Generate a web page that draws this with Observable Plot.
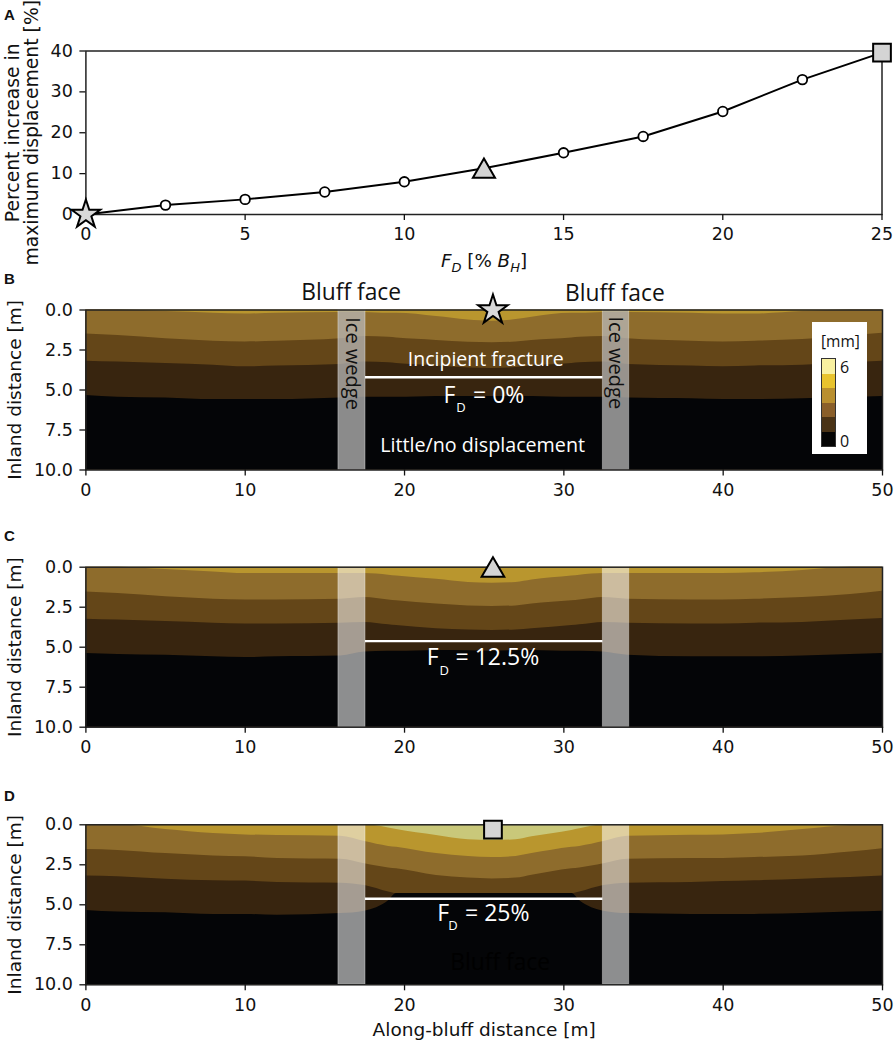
<!DOCTYPE html>
<html>
<head>
<meta charset="utf-8">
<script src="https://cdn.jsdelivr.net/npm/d3@7"></script>
<script src="https://cdn.jsdelivr.net/npm/@observablehq/plot@0.6"></script>
<style>
body { margin: 0; background: #fff; font-family: "DejaVu Sans", sans-serif; }
#page { position: relative; width: 896px; height: 1044px; overflow: hidden; }
.panel { position: absolute; left: 0; }
.letter { position: absolute; left: 4px; font: bold 15px "Liberation Sans", sans-serif; color: #111; }
#xlabelA { position: absolute; left: 284px; width: 400px; top: 250px; text-align: center; font-size: 18.3px; color: #111; }
#xlabelA sub { font-size: 13px; line-height: 0; }
#legend { position: absolute; left: 812px; top: 322px; width: 55px; height: 132px; background: #fff; font: 15.5px "Open Sans", sans-serif; color: #111; }
#legend .unit { position: absolute; left: 9px; top: 8px; }
#legend .bar { position: absolute; left: 9px; top: 36px; width: 13px; height: 87px; border: 1px solid #333; }
#legend .bar div { height: 14.5px; }
#legend .six { position: absolute; left: 28px; top: 34px; font-size: 16px; }
#legend .zero { position: absolute; left: 28px; top: 108px; font-size: 16px; }
</style>
</head>
<body>
<div id="page"></div>
<script>
// panel A
const fdValues = [0, 2.5, 5, 7.5, 10, 12.5, 15, 17.5, 20, 22.5, 25]
const increase = [0, 2.3, 3.7, 5.5, 8, 11.3, 15.1, 19.1, 25.2, 33, 39.6]
const fdCircles = [2.5, 5, 7.5, 10, 15, 17.5, 20, 22.5]
const increaseCircles = [2.3, 3.7, 5.5, 8, 15.1, 19.1, 25.2, 33]

// contour boundaries, depth in m at each along-bluff stop
const xStops = [0, 2, 5, 8, 10, 12, 16, 17.5, 19, 19.5, 22, 24, 25.5, 27, 28, 30.5, 31, 32.5, 34, 38, 40, 42, 45, 48, 50]

const bGold = [0, 0, 0.1, 0.2, 0.25, 0.2, 0.15, 0.15, 0.2, 0.2, 0.4, 0.62, 0.7, 0.6, 0.45, 0.2, 0.2, 0.15, 0.15, 0.2, 0.25, 0.25, 0.1, 0, 0]
const bTan = [1.5, 1.6, 1.8, 1.95, 2.0, 1.95, 1.8, 1.65, 1.7, 1.75, 1.9, 2.02, 2.05, 2.0, 1.9, 1.75, 1.7, 1.65, 1.8, 1.95, 2.0, 1.95, 1.85, 1.6, 1.45]
const bBrown = [3.2, 3.25, 3.35, 3.45, 3.55, 3.5, 3.4, 3.25, 3.3, 3.35, 3.5, 3.62, 3.65, 3.6, 3.5, 3.35, 3.3, 3.25, 3.4, 3.5, 3.55, 3.5, 3.45, 3.3, 3.2]
const bDark = [5.35, 5.45, 5.5, 5.6, 5.6, 5.6, 5.5, 5.45, 5.45, 5.45, 5.4, 5.4, 5.4, 5.4, 5.4, 5.45, 5.45, 5.45, 5.5, 5.55, 5.6, 5.6, 5.55, 5.45, 5.4]

const cGold = [0, 0, 0.15, 0.3, 0.4, 0.4, 0.4, 0.4, 0.5, 0.55, 0.75, 0.95, 1.0, 0.95, 0.8, 0.55, 0.5, 0.4, 0.4, 0.4, 0.4, 0.35, 0.2, 0, 0]
const cTan = [1.55, 1.65, 1.85, 2.0, 2.05, 2.05, 2.0, 1.9, 2.05, 2.1, 2.3, 2.42, 2.45, 2.42, 2.3, 2.1, 2.05, 1.9, 2.0, 2.05, 2.05, 2.0, 1.9, 1.7, 1.5]
const cBrown = [3.25, 3.3, 3.4, 3.5, 3.55, 3.55, 3.5, 3.45, 3.6, 3.65, 3.85, 3.92, 3.95, 3.92, 3.85, 3.65, 3.6, 3.45, 3.5, 3.55, 3.55, 3.5, 3.45, 3.3, 3.2]
const cDark = [5.4, 5.45, 5.5, 5.6, 5.65, 5.6, 5.55, 5.3, 5.25, 5.25, 5.2, 5.22, 5.25, 5.22, 5.2, 5.25, 5.25, 5.3, 5.5, 5.6, 5.6, 5.6, 5.55, 5.45, 5.4]

const dPale = [0, 0, 0, 0, 0, 0, 0, 0, 0.2, 0.3, 0.67, 0.94, 0.98, 0.94, 0.75, 0.35, 0.25, 0, 0, 0, 0, 0, 0, 0, 0]
const dGold = [0, 0, 0.3, 0.55, 0.63, 0.67, 0.72, 1.05, 1.35, 1.4, 1.8, 1.98, 2.05, 1.98, 1.8, 1.4, 1.35, 1.05, 0.72, 0.65, 0.63, 0.55, 0.3, 0.05, 0]
const dTan = [1.55, 1.6, 1.8, 1.95, 2.0, 2.1, 2.15, 2.44, 2.7, 2.75, 3.17, 3.33, 3.38, 3.33, 3.15, 2.75, 2.7, 2.44, 2.15, 2.1, 2.1, 2.05, 1.95, 1.7, 1.5]
const dBrown = [3.2, 3.25, 3.4, 3.5, 3.52, 3.6, 3.65, 3.8, 4.2, 4.3, 4.3, 4.3, 4.3, 4.3, 4.3, 4.3, 4.2, 3.8, 3.65, 3.6, 3.55, 3.5, 3.4, 3.3, 3.2]
const dDark = [5.35, 5.45, 5.5, 5.6, 5.6, 5.65, 5.55, 5.4, 4.75, 4.3, 4.3, 4.3, 4.3, 4.3, 4.3, 4.3, 4.75, 5.4, 5.55, 5.6, 5.6, 5.6, 5.55, 5.45, 5.4]

const paleColor = "#c9c87a"
const goldColor = "#b9962e"
const tanColor = "#8e6c2c"
const brownColor = "#644618"
const darkColor = "#38250f"
const blackColor = "#040507"

const wedgeStart = [15.85, 32.45]
const wedgeEnd = [17.55, 34.1]

const legendColors = ["#f8f0a0", "#e8c32e", "#b98f2f", "#8a5f2a", "#4a3316", "#050505"]

const page = document.getElementById("page")
const fontAxis = {fontFamily: "DejaVu Sans", fontSize: "17.5px", color: "#111", background: "transparent", overflow: "visible"}
const annot = "Open Sans"

function place(svg, top) {
	svg.classList.add("panel")
	svg.style.top = top + "px"
	page.appendChild(svg)
}

function addLetter(txt, top) {
	const el = document.createElement("div")
	el.className = "letter"
	el.textContent = txt
	el.style.top = top + "px"
	page.appendChild(el)
}

function txt(label, x, y, size, fill, extra) {
	return Plot.text([label], {x: [x], y: [y], text: d => d, fontSize: size, fontFamily: annot, fill: fill, ...extra})
}

// subscript label F_D = ...
function fdLabel(value, xF, xD, xEq, y, yD) {
	return [
		txt("F", xF, y, 23, "white", {textAnchor: "start"}),
		txt("D", xD, yD, 13, "white", {textAnchor: "start"}),
		txt("= " + value, xEq, y, 23, "white", {textAnchor: "start"})
	]
}

function contourPanel(o) {
	const layers = o.bounds.map(([b, c]) => Plot.areaY(xStops, {x: xStops, y1: xStops.map(() => 10), y2: b, fill: c, curve: "monotone-x"}))
	const wedges = Plot.rect(wedgeStart, {x1: wedgeStart, x2: wedgeEnd, y1: [0, 0], y2: [10, 10], fill: o.wedgeFill, fillOpacity: o.wedgeOpacity, stroke: "white", strokeOpacity: 0.35})
	const marks = [
		Plot.areaY(xStops, {x: xStops, y1: xStops.map(() => 10), y2: xStops.map(() => 0), fill: o.top}),
		...layers,
		wedges,
		Plot.ruleY([o.crack], {x1: 17.55, x2: 32.45, stroke: "white", strokeWidth: 2.4}),
		...o.notes,
		Plot.frame({stroke: "#222", strokeWidth: 1.5}),
		Plot.axisX({ticks: [0, 10, 20, 30, 40, 50], tickSize: 6, tickPadding: 7.5, tickFormat: "d", strokeWidth: 1.3, label: null}),
		Plot.axisY({ticks: [0, 2.5, 5, 7.5, 10], tickSize: 6, tickPadding: 7, tickFormat: d3.format(".1f"), strokeWidth: 1.3, label: null}),
		Plot.axisY({ticks: [], fontSize: 18.5, label: "Inland distance [m]", labelAnchor: "center", labelArrow: "none", labelOffset: 78}),
		o.marker
	]
	if (o.xLabel) marks.push(Plot.axisX({ticks: [], fontSize: 18.5, label: o.xLabel, labelAnchor: "center", labelArrow: "none", labelOffset: 51}))
	return Plot.plot({
		width: 896,
		height: o.height,
		marginLeft: 85.4,
		marginRight: 14,
		marginTop: o.marginTop,
		marginBottom: o.height - o.marginTop - 160,
		style: fontAxis,
		x: {domain: [0, 50]},
		y: {domain: [10, 0]},
		marks: marks
	})
}

// panel A
const plotA = Plot.plot({
	width: 896,
	height: 270,
	marginLeft: 85.4,
	marginRight: 14.5,
	marginTop: 50.5,
	marginBottom: 56,
	style: fontAxis,
	x: {domain: [0, 25]},
	y: {domain: [0, 40]},
	marks: [
		Plot.frame({stroke: "#222", strokeWidth: 1.5}),
		Plot.axisX({ticks: [0, 5, 10, 15, 20, 25], tickSize: 6, tickPadding: 7.5, strokeWidth: 1.3, label: null}),
		Plot.axisY({ticks: [0, 10, 20, 30, 40], tickSize: 6, tickPadding: 7, strokeWidth: 1.3, label: null}),
		Plot.axisY({ticks: [], fontSize: 18.8, lineHeight: 1.12, label: "Percent increase in\nmaximum displacement [%]", labelAnchor: "center", labelArrow: "none", labelOffset: 80}),
		Plot.line(fdValues, {x: fdValues, y: increase, stroke: "black", strokeWidth: 2}),
		Plot.dot(fdCircles, {x: fdCircles, y: increaseCircles, r: 4.8, fill: "white", stroke: "black", strokeWidth: 1.8}),
		Plot.dot([0], {x: [0], y: [0], symbol: "star", r: 9, fill: "#d8d8d8", stroke: "black", strokeWidth: 2}),
		Plot.dot([12.5], {x: [12.5], y: [11.3], symbol: "triangle", r: 8.2, dy: 3, fill: "#d4d4d4", stroke: "black", strokeWidth: 2}),
		Plot.dot([25], {x: [25], y: [39.6], symbol: "square", r: 10, fill: "#d4d4d4", stroke: "black", strokeWidth: 2})
	]
})
place(plotA, 0)

// panel B
const plotB = contourPanel({
	height: 230,
	marginTop: 37.5,
	top: goldColor,
	bounds: [[bGold, tanColor], [bTan, brownColor], [bBrown, darkColor], [bDark, blackColor]],
	crack: 4.2,
	wedgeFill: "#b8b8b8",
	wedgeOpacity: 0.75,
	notes: [
		txt("Bluff face", 16.65, -1.05, 22.8, "#111"),
		txt("Bluff face", 33.2, -1.0, 22.8, "#111"),
		txt("Ice wedge", 16.75, 3.35, 20, "#111", {rotate: 90}),
		txt("Ice wedge", 33.25, 3.3, 20, "#111", {rotate: 90}),
		txt("Incipient fracture", 25.1, 3.1, 19.5, "white"),
		...fdLabel("0%", 22.45, 23.25, 24.3, 5.35, 6.1),
		txt("Little/no displacement", 24.9, 8.47, 19.7, "white")
	],
	marker: Plot.dot([25.55], {x: [25.55], y: [0], symbol: "star", r: 9.3, fill: "#d8d8d8", stroke: "black", strokeWidth: 2})
})
place(plotB, 272)

// panel C
const plotC = contourPanel({
	height: 230,
	marginTop: 36.7,
	top: goldColor,
	bounds: [[cGold, tanColor], [cTan, brownColor], [cBrown, darkColor], [cDark, blackColor]],
	crack: 4.62,
	wedgeFill: "white",
	wedgeOpacity: 0.55,
	notes: fdLabel("12.5%", 21.4, 22.2, 23.2, 5.65, 6.45),
	marker: Plot.dot([25.55], {x: [25.55], y: [0], symbol: "triangle", r: 8.4, dy: 3, fill: "#d4d4d4", stroke: "black", strokeWidth: 2})
})
place(plotC, 530)

// panel D
const plotD = contourPanel({
	height: 254,
	marginTop: 34.3,
	top: paleColor,
	bounds: [[dPale, goldColor], [dGold, tanColor], [dTan, brownColor], [dBrown, darkColor], [dDark, blackColor]],
	crack: 4.62,
	wedgeFill: "white",
	wedgeOpacity: 0.55,
	xLabel: "Along-bluff distance [m]",
	notes: [
		...fdLabel("25%", 22.05, 22.75, 23.8, 5.55, 6.3),
		txt("Bluff face", 26, 8.65, 22.8, "#000")
	],
	marker: Plot.dot([25.55], {x: [25.55], y: [0.3], symbol: "square", r: 10, fill: "#d4d4d4", stroke: "black", strokeWidth: 2})
})
place(plotD, 790)

addLetter("A", 6)
addLetter("B", 270)
addLetter("C", 527)
addLetter("D", 787)

const xA = document.createElement("div")
xA.id = "xlabelA"
xA.innerHTML = "<i>F<sub>D</sub></i> [% <i>B<sub>H</sub></i>]"
page.appendChild(xA)

const leg = document.createElement("div")
leg.id = "legend"
leg.innerHTML = '<div class="unit">[mm]</div><div class="bar">' + legendColors.map(c => `<div style="background:${c}"></div>`).join("") + '</div><div class="six">6</div><div class="zero">0</div>'
page.appendChild(leg)
</script>
</body>
</html>
